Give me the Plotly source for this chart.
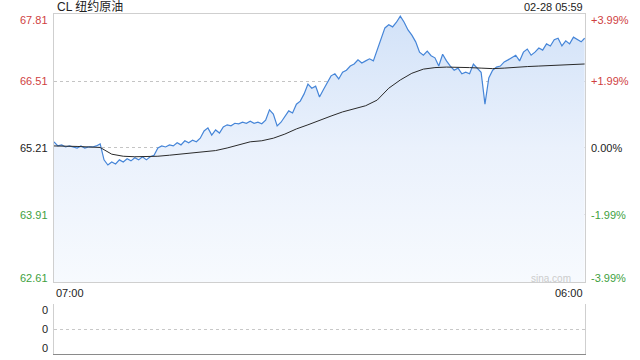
import pandas as pd
import plotly.graph_objects as go

# ---------------- data ----------------
prev_close = 65.21
y_ticks_left = [67.81, 66.51, 65.21, 63.91, 62.61]
y_ticks_right = ["+3.99%", "+1.99%", "0.00%", "-1.99%", "-3.99%"]

price_times = list(pd.date_range("2025-02-27 07:00", periods=138, freq="10min")) + [pd.Timestamp("2025-02-28 05:59")]
price = [
    65.33, 65.25, 65.27, 65.23, 65.25, 65.23, 65.21, 65.25, 65.21, 65.23,
    65.23, 65.25, 65.29, 64.98, 64.88, 64.94, 64.90, 64.98, 64.94, 65.00,
    64.96, 65.02, 64.98, 65.04, 64.98, 65.04, 65.07, 65.21, 65.25, 65.23,
    65.27, 65.25, 65.31, 65.27, 65.35, 65.31, 65.36, 65.33, 65.40, 65.54,
    65.60, 65.46, 65.56, 65.50, 65.62, 65.66, 65.64, 65.69, 65.68, 65.71,
    65.69, 65.73, 65.69, 65.71, 65.68, 65.75, 65.95, 65.87, 65.64, 65.71,
    65.81, 65.93, 65.89, 66.06, 66.12, 66.26, 66.45, 66.37, 66.41, 66.20,
    66.34, 66.49, 66.61, 66.65, 66.55, 66.68, 66.72, 66.80, 66.84, 66.92,
    66.86, 66.90, 66.94, 66.90, 67.11, 67.31, 67.54, 67.60, 67.56, 67.65,
    67.77, 67.65, 67.50, 67.40, 67.27, 67.07, 67.01, 67.09, 67.00, 66.96,
    66.80, 67.03, 66.90, 66.80, 66.72, 66.76, 66.65, 66.68, 66.65, 66.84,
    66.76, 66.68, 66.06, 66.57, 66.72, 66.78, 66.80, 66.88, 66.92, 66.96,
    67.01, 66.90, 67.07, 67.13, 67.01, 67.07, 67.15, 67.11, 67.23, 67.19,
    67.31, 67.34, 67.19, 67.29, 67.23, 67.36, 67.32, 67.27, 67.34,
]

avg_times = list(pd.date_range("2025-02-27 07:00", periods=46, freq="30min")) + [pd.Timestamp("2025-02-28 05:59")]
avg_price = [
    65.25, 65.25, 65.24, 65.23, 65.22, 65.09, 65.05, 65.04, 65.04, 65.05,
    65.07, 65.09, 65.11, 65.13, 65.16, 65.21, 65.27, 65.33, 65.35, 65.40,
    65.48, 65.58, 65.66, 65.75, 65.83, 65.91, 65.97, 66.03, 66.14, 66.37,
    66.53, 66.66, 66.74, 66.77, 66.78, 66.78, 66.77, 66.76, 66.75, 66.76,
    66.78, 66.79, 66.80, 66.81, 66.82, 66.83, 66.84,
]

x_start = pd.Timestamp("2025-02-27 07:00")
x_end = pd.Timestamp("2025-02-28 06:00")
title_text = "CL 纽约原油"
stamp_text = "02-28 05:59"

# ---------------- styles ----------------
FONT = "Arial, 'Liberation Sans', 'Noto Sans CJK SC', sans-serif"
RED = "#cf3f3f"
GREEN = "#3e9f3e"
DARK = "#222222"
label_colors = [RED, RED, DARK, GREEN, GREEN]

fig = go.Figure()
fig.add_trace(go.Scatter(
    x=price_times, y=price, mode="lines",
    line=dict(color="#4585d8", width=1.2),
    fill="tozeroy",
    fillgradient=dict(type="vertical", start=y_ticks_left[-1], stop=y_ticks_left[0],
                      colorscale=[[0, "#f7fafe"], [0.5, "#eaf1fc"], [1, "#d2e2f8"]]),
    hoverinfo="skip", xaxis="x", yaxis="y",
))
fig.add_trace(go.Scatter(
    x=avg_times, y=avg_price, mode="lines",
    line=dict(color="#2a2a2a", width=1),
    hoverinfo="skip", xaxis="x", yaxis="y",
))
# empty volume panel
fig.add_trace(go.Scatter(x=[x_start, x_end], y=[None, None], mode="lines",
                         xaxis="x2", yaxis="y2", hoverinfo="skip"))

fig.update_layout(
    width=640, height=360,
    margin=dict(l=54, r=55, t=14, b=6),
    paper_bgcolor="white", plot_bgcolor="white",
    showlegend=False,
    font=dict(family=FONT, size=11, color=DARK),
    xaxis=dict(domain=[0, 1], range=[x_start, x_end], showticklabels=False,
               showgrid=False, zeroline=False, showline=True, mirror=True,
               linecolor="#cfcfcf", linewidth=1, ticks=""),
    yaxis=dict(domain=[0.2118, 1], range=[y_ticks_left[-1], y_ticks_left[0]],
               tickvals=y_ticks_left[1:4], showticklabels=False,
               showgrid=True, gridcolor="#c4c4c4", griddash="dot", gridwidth=1,
               zeroline=False, showline=True, mirror=True,
               linecolor="#cfcfcf", linewidth=1, ticks=""),
    xaxis2=dict(domain=[0, 1], anchor="y2", range=[x_start, x_end],
                showticklabels=False, showgrid=False, zeroline=False,
                showline=True, linecolor="#8a8a8a", linewidth=1, ticks=""),
    yaxis2=dict(domain=[0, 0.147], anchor="x2", range=[0, 2], tickvals=[1, 2],
                showticklabels=False, showgrid=True, gridcolor="#c8c8c8",
                griddash="dot", zeroline=False, showline=True, mirror=True,
                linecolor="#cfcfcf", linewidth=1, ticks=""),
)

ann = []
shifts = [-6, 0, 0, 0, 4]
for v, txt, c, s in zip(y_ticks_left, y_ticks_right, label_colors, shifts):
    ann.append(dict(xref="paper", yref="y", x=0, y=v, xanchor="right", yanchor="middle",
                    xshift=-4, yshift=s, text=f"{v:.2f}", showarrow=False,
                    font=dict(size=11, color=c)))
    ann.append(dict(xref="paper", yref="y", x=1, y=v, xanchor="left", yanchor="middle",
                    xshift=4, yshift=s, text=txt, showarrow=False,
                    font=dict(size=11, color=c)))
for v, s in zip([2, 1, 0], [-6, 0, 6]):
    ann.append(dict(xref="paper", yref="y2", x=0, y=v, xanchor="right", yanchor="middle",
                    xshift=-4, yshift=s, text="0", showarrow=False,
                    font=dict(size=11, color=DARK)))
ann.append(dict(xref="x", yref="paper", x=x_start, y=0.179, xanchor="left", yanchor="middle",
                text="07:00", showarrow=False, font=dict(size=11, color=DARK)))
ann.append(dict(xref="x", yref="paper", x=x_end, y=0.179, xanchor="right", yanchor="middle",
                text="06:00", showarrow=False, font=dict(size=11, color=DARK)))
ann.append(dict(xref="paper", yref="paper", x=0, y=1.0206, xanchor="left", yanchor="middle",
                xshift=1, text=title_text, showarrow=False, font=dict(size=12, color=DARK)))
ann.append(dict(xref="paper", yref="paper", x=1, y=1.0206, xanchor="right", yanchor="middle",
                text=stamp_text, showarrow=False, font=dict(size=11, color=DARK)))
ann.append(dict(xref="paper", yref="paper", x=0.977, y=0.2235, xanchor="right", yanchor="middle",
                text="sina.com", showarrow=False, font=dict(size=10, color="#cccccc")))
fig.update_layout(annotations=ann)

fig.write_html("out.html")
